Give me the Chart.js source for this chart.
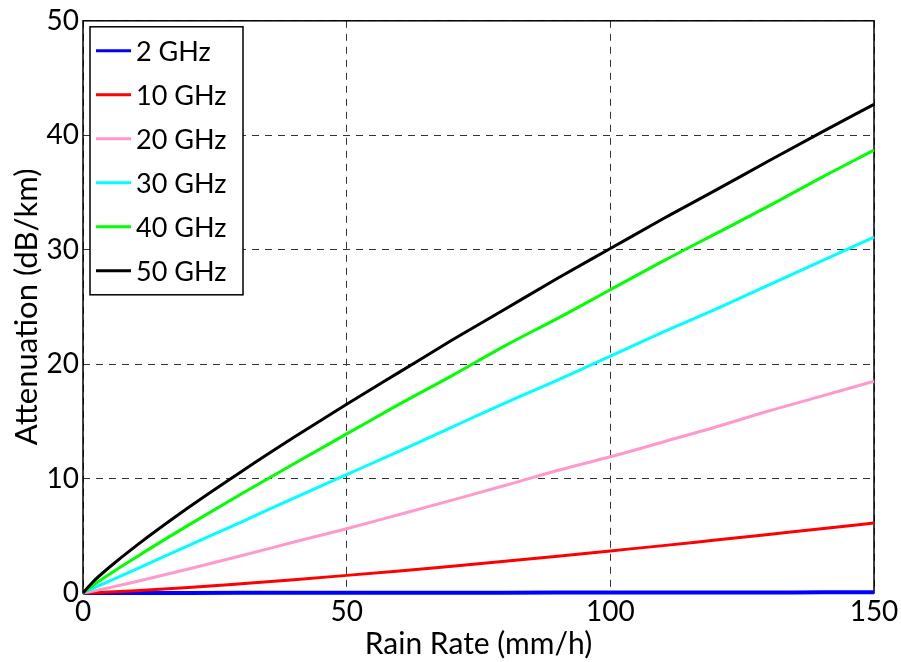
<!DOCTYPE html>
<html>
<head>
<meta charset="utf-8">
<script src="https://cdn.jsdelivr.net/npm/chart.js@4.4.1/dist/chart.umd.min.js"></script>
<style>
  html, body { margin: 0; padding: 0; background: #fff; }
  #wrap { width: 901px; height: 662px; }
</style>
</head>
<body>
<div id="wrap"><canvas id="myChart"></canvas></div>
<script>
// rain rate (mm/h) and specific attenuation (dB/km)
const rainRate = [0, 2, 5, 10, 20, 30, 40, 50, 60, 70, 80, 90, 100, 110, 120, 130, 140, 150];
const att2 = [0, 0.001, 0.002, 0.004, 0.008, 0.012, 0.016, 0.02, 0.024, 0.028, 0.032, 0.036, 0.04, 0.044, 0.048, 0.052, 0.056, 0.06];
const att10 = [0, 0.03, 0.08, 0.2, 0.48, 0.81, 1.16, 1.54, 1.93, 2.34, 2.77, 3.22, 3.68, 4.14, 4.63, 5.12, 5.61, 6.12];
const att20 = [0, 0.17, 0.47, 0.99, 2.1, 3.25, 4.45, 5.62, 6.86, 8.12, 9.39, 10.7, 11.9, 13.2, 14.5, 15.9, 17.2, 18.5];
const att30 = [0, 0.42, 1.04, 2.07, 4.14, 6.2, 8.3, 10.35, 12.4, 14.5, 16.6, 18.6, 20.7, 22.8, 24.8, 26.9, 29.0, 31.1];
const att40 = [0, 0.7, 1.64, 3.11, 5.93, 8.65, 11.3, 13.9, 16.5, 19.0, 21.6, 24.0, 26.5, 29.0, 31.4, 33.8, 36.3, 38.7];
const att50 = [0, 1.02, 2.25, 4.1, 7.47, 10.6, 13.6, 16.5, 19.3, 22.1, 24.8, 27.5, 30.1, 32.7, 35.2, 37.75, 40.25, 42.7];
const seriesNames = ['2 GHz', '10 GHz', '20 GHz', '30 GHz', '40 GHz', '50 GHz'];
const seriesColors = ['#0000ff', '#ff0000', '#ff99cc', '#00ffff', '#00ff00', '#000000'];

const FONT = 'Lato, "Open Sans", sans-serif';

function pts(arr) {
  return rainRate.map((r, i) => ({ x: r, y: arr[i] }));
}

const allSeries = [att2, att10, att20, att30, att40, att50];

// frame around the plot area
const framePlugin = {
  id: 'frame',
  beforeDatasetsDraw(chart) {
    const a = chart.chartArea;
    const c = chart.ctx;
    c.save();
    c.strokeStyle = '#000';
    c.lineWidth = 1.5;
    c.setLineDash([]);
    c.strokeRect(a.left, a.top, a.right - a.left, a.bottom - a.top);
    c.restore();
  }
};

// boxed legend inside the plot, top left
const boxLegend = {
  id: 'boxLegend',
  afterDatasetsDraw(chart) {
    const a = chart.chartArea;
    const c = chart.ctx;
    const x0 = a.left + 7, y0 = a.top + 6, w = 153, h = 268;
    c.save();
    c.fillStyle = '#fff';
    c.fillRect(x0, y0, w, h);
    c.strokeStyle = '#000';
    c.lineWidth = 1.5;
    c.strokeRect(x0, y0, w, h);
    c.font = '27px ' + FONT;
    c.textBaseline = 'middle';
    chart.data.datasets.forEach((ds, i) => {
      const y = y0 + 24 + i * 44;
      c.strokeStyle = ds.borderColor;
      c.lineWidth = 3;
      c.beginPath();
      c.moveTo(x0 + 6, y);
      c.lineTo(x0 + 41, y);
      c.stroke();
      c.fillStyle = '#000';
      c.fillText(ds.label, x0 + 46, y + 1);
    });
    c.restore();
  }
};

const ctx = document.getElementById('myChart');

new Chart(ctx, {
  type: 'line',
  data: {
    datasets: allSeries.map((arr, i) => ({
      label: seriesNames[i],
      data: pts(arr),
      borderColor: seriesColors[i],
      backgroundColor: seriesColors[i],
      borderWidth: i === 0 ? 4 : 3,
      pointRadius: 0,
      cubicInterpolationMode: 'monotone',
      clip: 4,
      order: 6 - i
    }))
  },
  options: {
    responsive: true,
    maintainAspectRatio: false,
    animation: false,
    layout: { padding: { top: 18, right: 27, left: 0, bottom: 0 } },
    plugins: {
      legend: { display: false },
      tooltip: { enabled: false }
    },
    scales: {
      x: {
        type: 'linear',
        min: 0,
        max: 150,
        afterFit: (s) => { s.height = 69; },
        ticks: {
          stepSize: 50,
          color: '#000',
          font: { family: FONT, size: 28 },
          padding: 2,
          maxRotation: 0
        },
        grid: { color: '#333', lineWidth: 1, drawTicks: false },
        border: { display: false, dash: [7, 6] },
        title: {
          display: true,
          text: 'Rain Rate (mm/h)',
          color: '#000',
          font: { family: FONT, size: 30 },
          padding: { top: -8, bottom: 0 }
        }
      },
      y: {
        min: 0,
        max: 50,
        afterFit: (s) => { s.width = 83; },
        ticks: {
          stepSize: 10,
          color: '#000',
          font: { family: FONT, size: 28 },
          padding: 4
        },
        grid: { color: '#333', lineWidth: 1, drawTicks: false },
        border: { display: false, dash: [7, 6] },
        title: {
          display: true,
          text: 'Attenuation (dB/km)',
          color: '#000',
          font: { family: FONT, size: 31 },
          padding: { top: 8, bottom: 0 }
        }
      }
    }
  },
  plugins: [framePlugin, boxLegend]
});
</script>
</body>
</html>
